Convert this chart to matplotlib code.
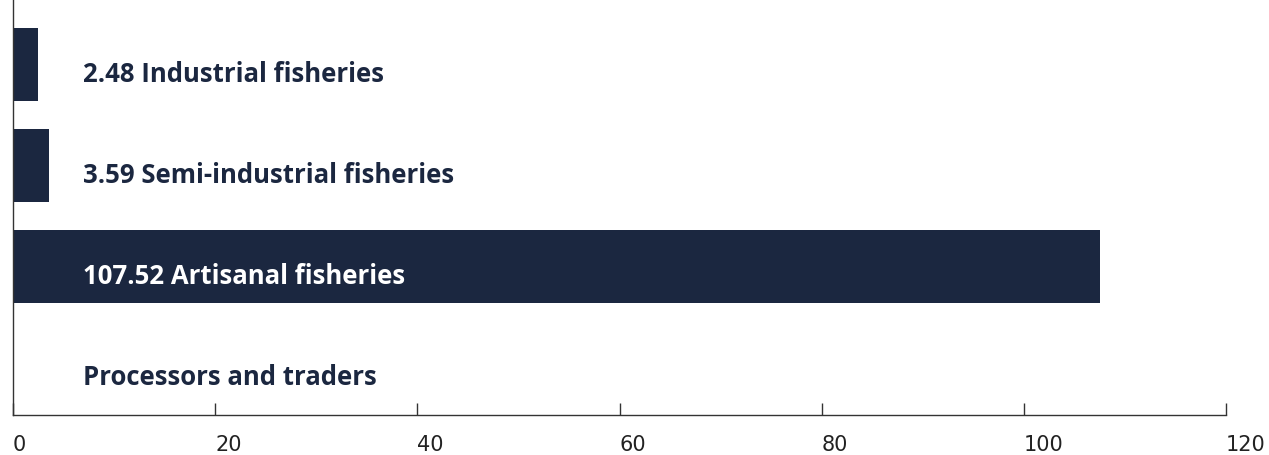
import numpy as np
import matplotlib.pyplot as plt

categories = ['Industrial fisheries', 'Semi-industrial fisheries', 'Artisanal fisheries', 'Processors and traders']
values = [2.48, 3.59, 107.52, None]
ticks = [0, 20, 40, 60, 80, 100, 120]

navy = '#1b2740'

fig = plt.figure(figsize=(12.69, 4.56), dpi=100)
ax = fig.add_axes([13 / 1269, 40 / 456, 1213 / 1269, 416 / 456])

y = np.arange(len(categories))
widths = [v if v is not None else 0 for v in values]
ax.barh(y, widths, height=0.72, color=navy)

for i, (cat, v) in enumerate(zip(categories, values)):
    label = cat if v is None else f'{v:.2f} {cat}'
    # label sits on the bar when the bar is long enough to hold it
    col = 'white' if (v or 0) > 50 else navy
    ax.text(6.9, i + 0.09, label, va='center', ha='left', fontsize=18.5,
            fontweight='bold', color=col, family='Open Sans')

ax.set_xlim(0, 120)
ax.set_ylim(3.475, -0.65)
ax.set_xticks(ticks)
ax.set_xticklabels([str(t) for t in ticks], family='DejaVu Sans', fontsize=15,
                   color='#222222', ha='left')
ax.tick_params(axis='x', direction='in', length=9, width=1, color='#333333', pad=14)
ax.set_yticks([])
for s in ['top', 'right']:
    ax.spines[s].set_visible(False)
for s in ['left', 'bottom']:
    ax.spines[s].set_color('#333333')
    ax.spines[s].set_linewidth(1)

fig.savefig('out.png', dpi=100)
